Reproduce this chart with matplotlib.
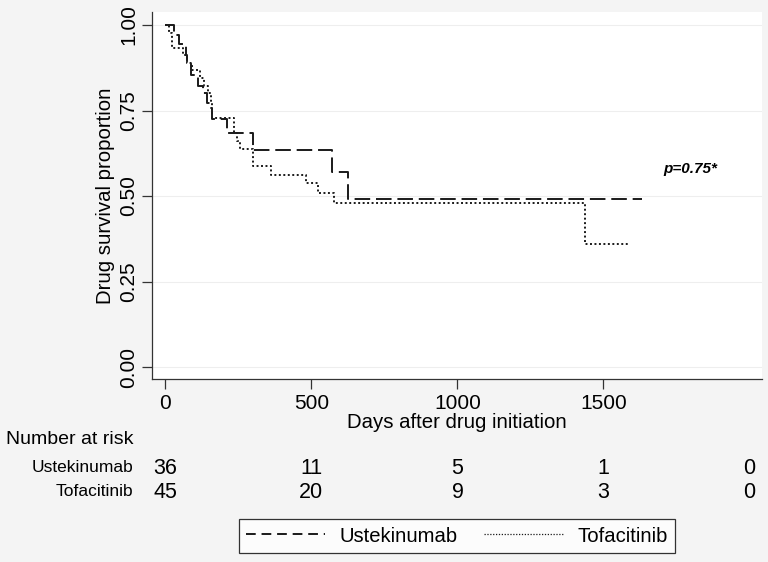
import matplotlib
matplotlib.use("Agg")
import matplotlib.pyplot as plt
from matplotlib.transforms import blended_transform_factory
from matplotlib.lines import Line2D

plt.rcParams['font.family'] = ['Liberation Sans', 'DejaVu Sans']

# Kaplan-Meier steps (day, survival after the step)
ust_days = [0, 29, 47, 70, 75, 86, 112, 129, 141, 152, 160, 210, 301, 569, 625, 1631]
ust_surv = [1.0, 0.972, 0.944, 0.912, 0.888, 0.854, 0.822, 0.800, 0.773, 0.758, 0.724,
            0.685, 0.635, 0.571, 0.491, 0.491]

tof_days = [0, 12, 21, 61, 75, 90, 118, 132, 146, 156, 161, 236, 246, 257, 301, 361,
            480, 523, 578, 1437, 1585]
tof_surv = [1.0, 0.978, 0.933, 0.911, 0.889, 0.867, 0.844, 0.822, 0.800, 0.778, 0.729,
            0.683, 0.660, 0.636, 0.589, 0.562, 0.539, 0.508, 0.480, 0.359, 0.359]

risk_days = [0, 500, 1000, 1500, 2000]
ust_risk = [36, 11, 5, 1, 0]
tof_risk = [45, 20, 9, 3, 0]

fig = plt.figure(figsize=(7.68, 5.62), dpi=100, facecolor='#f4f4f4')
ax = fig.add_axes([152/768, 1 - 379/562, 610/768, 367/562])
ax.set_facecolor('white')

ax.step(ust_days, ust_surv, where='post', color='#1a1a1a', lw=1.4, linestyle=(0, (8, 3)))
ax.step(tof_days, tof_surv, where='post', color='#1a1a1a', lw=1.4, linestyle=(0, (1, 1.3)))

ax.set_xlim(-46, 2043)
ax.set_ylim(-0.035, 1.038)
ax.set_xticks([0, 500, 1000, 1500])
ax.set_yticks([0, 0.25, 0.5, 0.75, 1.0])
ax.set_yticklabels(['0.00', '0.25', '0.50', '0.75', '1.00'], rotation=90, va='center')
ax.tick_params(axis='both', direction='out', length=7, width=0.9, labelsize=15, color='#333333')
ax.tick_params(axis='y', pad=3)
ax.tick_params(axis='x', pad=4)
for side in ['top', 'right']:
    ax.spines[side].set_visible(False)
for side in ['left', 'bottom']:
    ax.spines[side].set_linewidth(0.9)
    ax.spines[side].set_color('#333333')
ax.grid(axis='y', color='#eeeeee', lw=0.8)
ax.set_axisbelow(True)

ax.set_ylabel('Drug survival proportion', fontsize=14.7, labelpad=3)
ax.set_xlabel('Days after drug initiation', fontsize=14.7, labelpad=0)

ax.text(1704, 0.58, 'p=0.75*', fontsize=11, fontweight='bold', fontstyle='italic',
        ha='left', va='center')

# number at risk table
tr = blended_transform_factory(ax.transData, fig.transFigure)
fig.text(6/768, 1 - 440/562, 'Number at risk', fontsize=14, ha='left', va='center')
fig.text(133/768, 1 - 468/562, 'Ustekinumab', fontsize=12.5, ha='right', va='center')
fig.text(133/768, 1 - 492/562, 'Tofacitinib', fontsize=12.5, ha='right', va='center')
for d, u, t in zip(risk_days, ust_risk, tof_risk):
    ax.text(d, 1 - 468/562, str(u), transform=tr, fontsize=15.5, ha='center', va='center')
    ax.text(d, 1 - 492/562, str(t), transform=tr, fontsize=15.5, ha='center', va='center')

handles = [Line2D([], [], color='#1a1a1a', lw=1.4, linestyle=(0, (5, 3))),
           Line2D([], [], color='#1a1a1a', lw=0.9, linestyle=(0, (1, 1.3)))]
leg = fig.legend(handles, ['Ustekinumab', 'Tofacitinib'], ncol=2, loc='center',
                 bbox_to_anchor=(457/768, 1 - 536/562), frameon=True, fancybox=False,
                 edgecolor='black', fontsize=14.6, handlelength=3.9, columnspacing=1.3,
                 handletextpad=0.7, borderpad=0.35, borderaxespad=0)
leg.get_frame().set_linewidth(0.9)
leg.get_frame().set_facecolor('white')

fig.savefig('out.png', dpi=100, facecolor=fig.get_facecolor())
